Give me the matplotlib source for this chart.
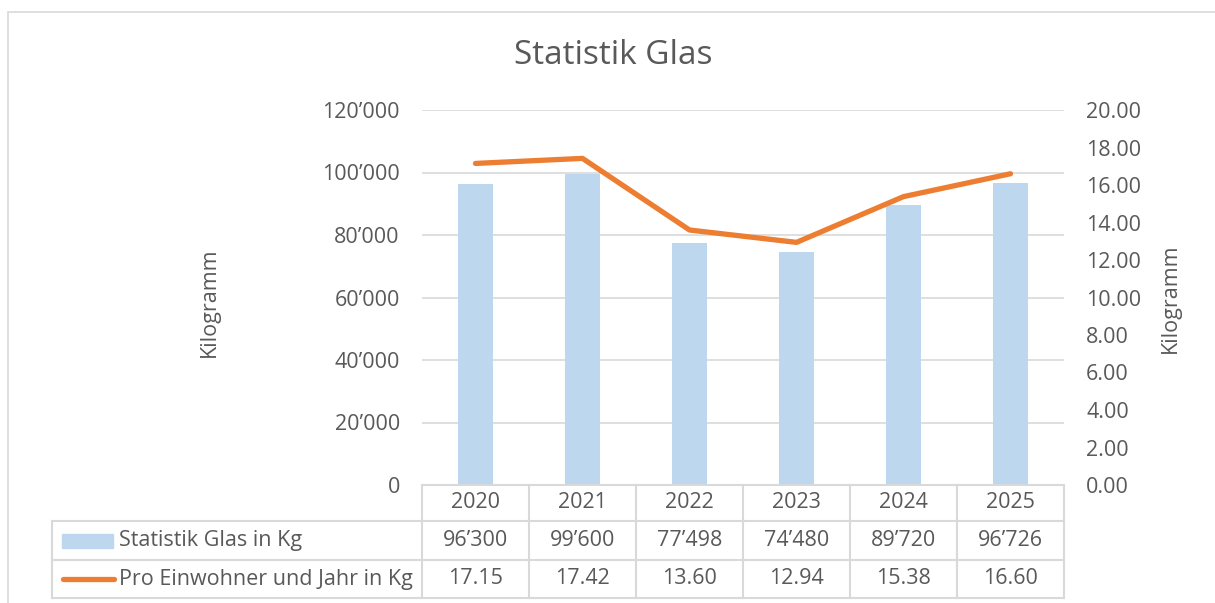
import matplotlib
matplotlib.use("Agg")
import matplotlib.pyplot as plt
from matplotlib.patches import Rectangle
from matplotlib.lines import Line2D

years = ["2020", "2021", "2022", "2023", "2024", "2025"]
glas_kg = [96300, 99600, 77498, 74480, 89720, 96726]
pro_einwohner = [17.15, 17.42, 13.60, 12.94, 15.38, 16.60]
series_names = ["Statistik Glas in Kg", "Pro Einwohner und Jahr in Kg"]
title = "Statistik Glas"
ylabel = "Kilogramm"

W, H = 1215, 603
plt.rcParams['font.family'] = ['Open Sans', 'DejaVu Sans']
TXT = "#595959"
GRID = "#D9D9D9"
BLUE = "#BDD7EE"
ORANGE = "#ED7D31"
FS = 15.5

fig = plt.figure(figsize=(W / 100, H / 100), dpi=100)

def fx(x):
    return x / W

def fy(y):
    return 1 - y / H

# outer chart border
fig.patches.append(Rectangle((fx(8), fy(620)), fx(1230) - fx(8), fy(12) - fy(620),
                             transform=fig.transFigure, fill=False, edgecolor=GRID, lw=1.2))

L, R, T, B = 422, 1064, 110, 485
ax = fig.add_axes([fx(L), fy(B), fx(R) - fx(L), fy(T) - fy(B)])
x = list(range(len(years)))
ax.bar(x, glas_kg, width=0.32, color=BLUE, zorder=2)
ax.set_xlim(-0.5, len(years) - 0.5)
ax.set_ylim(0, 120000)
ax.set_yticks(range(0, 120001, 20000))
ax.set_yticklabels([f"{v:,}".replace(",", "’") for v in range(0, 120001, 20000)])
ax.yaxis.grid(True, color=GRID, lw=1.2, zorder=0)
ax.set_axisbelow(True)
for s in ax.spines.values():
    s.set_visible(False)
ax.tick_params(axis='y', length=0, pad=16, labelsize=FS, labelcolor=TXT)
ax.set_xticks([])

ax2 = ax.twinx()
ax2.plot(x, pro_einwohner, color=ORANGE, lw=3.8, solid_capstyle='round', solid_joinstyle='round', zorder=3)
ax2.set_ylim(0, 19.89)
ax2.set_yticks([i * 2 for i in range(11)])
ax2.set_yticklabels([f"{i * 2:.2f}" for i in range(11)])
for s in ax2.spines.values():
    s.set_visible(False)
ax2.tick_params(axis='y', length=0, pad=16, labelsize=FS, labelcolor=TXT)
ax2.set_xlim(-0.5, len(years) - 0.5)

fig.text(fx(613), fy(55), title, ha='center', va='center', fontsize=24, color=TXT)
fig.text(fx(209), fy(302), ylabel, ha='center', va='center', rotation=90, fontsize=FS, color=TXT)
fig.text(fx(1170), fy(298), ylabel, ha='center', va='center', rotation=90, fontsize=FS, color=TXT)

# data table
colw = (R - L) / len(years)
rows_y = [485, 521, 560, 598]
def line(x0, y0, x1, y1):
    fig.lines.append(Line2D([fx(x0), fx(x1)], [fy(y0), fy(y1)], transform=fig.transFigure,
                            color=GRID, lw=1.5))

line(L, rows_y[0], R, rows_y[0])
for y in rows_y[1:]:
    line(52, y, R, y)
for i in range(len(years) + 1):
    line(L + i * colw, rows_y[0], L + i * colw, rows_y[3])
line(52, rows_y[1], 52, rows_y[3])

for i, yr in enumerate(years):
    cx = L + (i + 0.5) * colw
    fig.text(fx(cx), fy((rows_y[0] + rows_y[1]) / 2), yr, ha='center', va='center', fontsize=FS, color=TXT)
    fig.text(fx(cx), fy((rows_y[1] + rows_y[2]) / 2), f"{glas_kg[i]:,}".replace(",", "’"),
             ha='center', va='center', fontsize=FS, color=TXT)
    fig.text(fx(cx), fy((rows_y[2] + rows_y[3]) / 2), f"{pro_einwohner[i]:.2f}",
             ha='center', va='center', fontsize=FS, color=TXT)

fig.patches.append(Rectangle((fx(62), fy(548)), fx(113) - fx(62), fy(534) - fy(548),
                             transform=fig.transFigure, color=BLUE))
fig.lines.append(Line2D([fx(63), fx(114)], [fy(579), fy(579)], transform=fig.transFigure,
                        color=ORANGE, lw=3.8, solid_capstyle='round'))
fig.text(fx(119), fy((rows_y[1] + rows_y[2]) / 2), series_names[0], ha='left', va='center', fontsize=FS, color=TXT)
fig.text(fx(119), fy((rows_y[2] + rows_y[3]) / 2), series_names[1], ha='left', va='center', fontsize=FS, color=TXT)

fig.savefig("out.png", dpi=100)
